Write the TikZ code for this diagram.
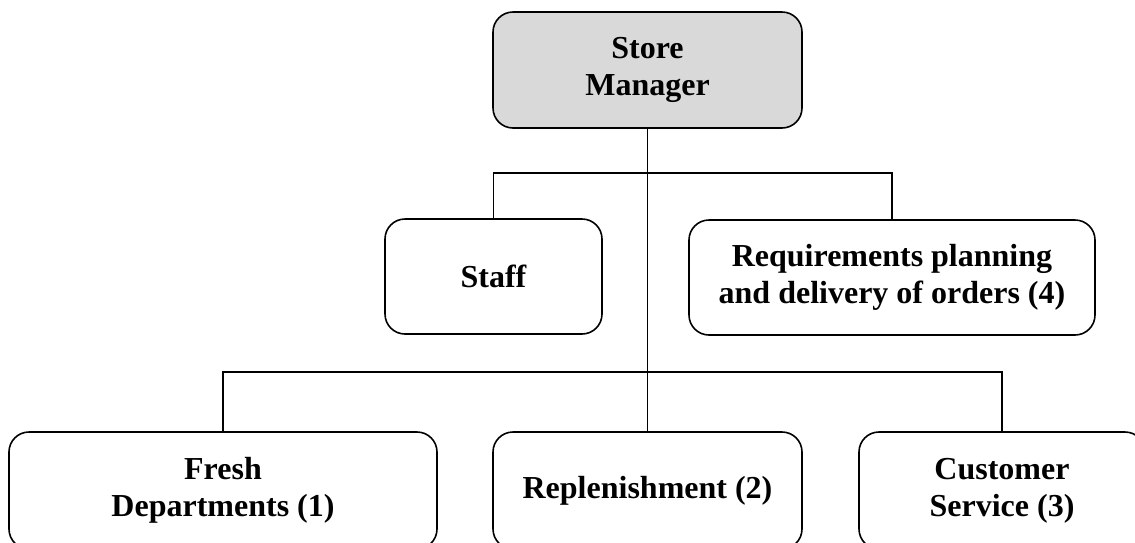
\documentclass[tikz,border=0pt]{standalone}
\usepackage{fontspec}
\setmainfont{Liberation Serif}
\begin{document}
\begin{tikzpicture}[x=1pt,y=-1pt,
  unit/.style={draw=black, line width=1.6pt, rounded corners=20pt, fill=white,
    inner sep=0pt, align=center,
    font=\fontsize{32}{37}\selectfont\bfseries},
  head/.style={unit, fill=black!15},
  link/.style={draw=black, line width=1.6pt}]
  \clip (0,0) rectangle (1135,542);

  % management level
  \node[head, minimum width=309pt, minimum height=116pt] (sm) at (647.5,70) {Store\\Manager};

  % support functions
  \node[unit, minimum width=217pt, minimum height=115pt] (staff) at (493.5,276.5) {Staff};
  \node[unit, minimum width=406pt, minimum height=115pt] (req) at (892,277.5)
    {Requirements planning\\and delivery of orders (4)};

  % operational departments
  \node[unit, minimum width=428pt, minimum height=117pt] (fresh) at (223,490.5) {Fresh\\Departments (1)};
  \node[unit, minimum width=309pt, minimum height=117pt] (rep) at (647.5,490.5) {Replenishment (2)};
  \node[unit, minimum width=286pt, minimum height=117pt] (cust) at (1002,490.5) {Customer\\Service (3)};

  % bus junctions on the trunk line
  \coordinate (bus1) at (647.5,173);
  \coordinate (bus2) at (647.5,372);

  \draw[link] (sm.south) -- (rep.north);
  \draw[link] (staff.north) |- (bus1) -| (req.north);
  \draw[link] (fresh.north) |- (bus2) -| (cust.north);
\end{tikzpicture}
\end{document}
